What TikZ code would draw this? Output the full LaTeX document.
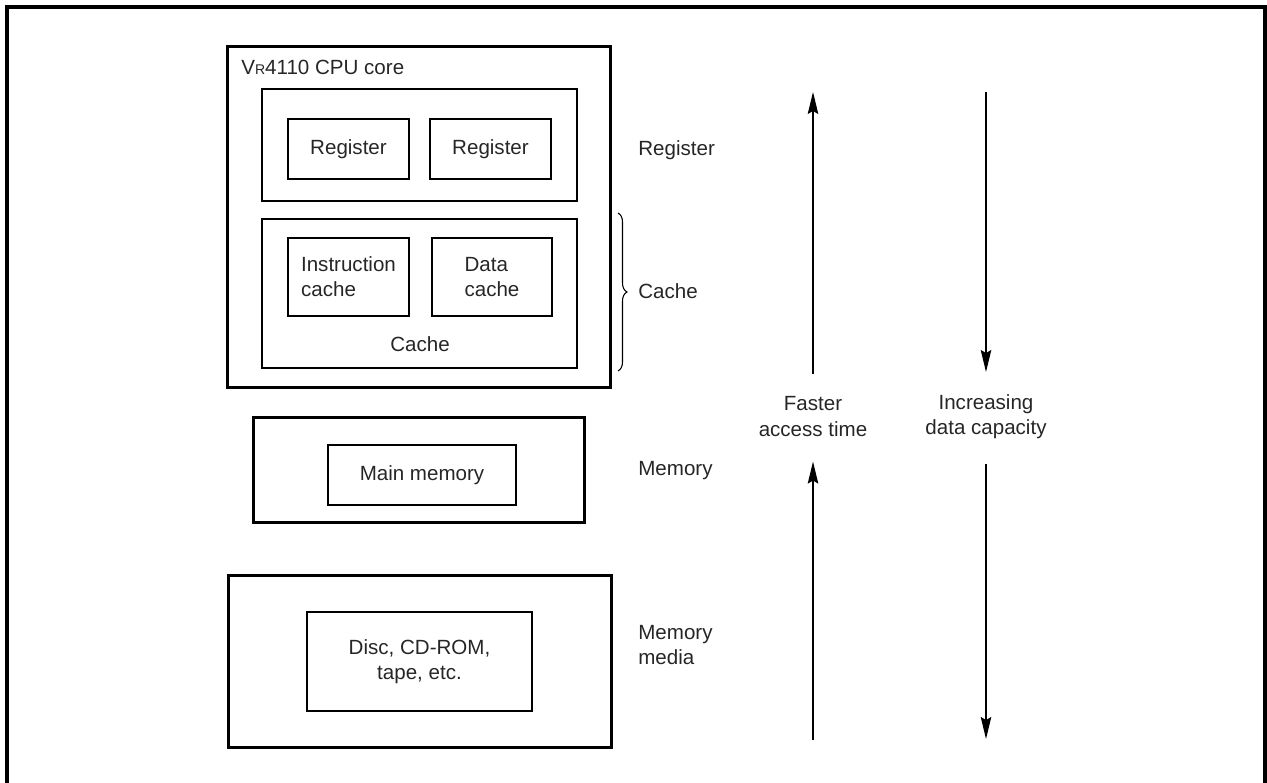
\documentclass[tikz,border=0pt]{standalone}
\usepackage{fontspec}
\setmainfont{Liberation Sans}
\usetikzlibrary{arrows.meta,decorations.pathreplacing}

\begin{document}
\begin{tikzpicture}[
    x=0.02cm, y=-0.02cm,
    font=\fontsize{11.7}{14.3}\selectfont,
    >={Stealth[length=4.4mm,width=2.1mm,inset=0.6mm]},
    shell/.style={draw, line width=1.7pt, inner sep=0pt},
    group/.style={draw, line width=0.7pt, inner sep=0pt},
    unit/.style={draw, line width=0.7pt, inner sep=0pt, text=black!85, align=left},
    level/.style={anchor=west, align=left, inner sep=0pt, text=black!85},
    flow/.style={->, line width=0.8pt},
    flowlabel/.style={align=center, inner sep=0pt, text=black!85}
  ]
  \useasboundingbox (0,0) rectangle (1267,783);
  \draw[line width=2pt] (7,783) -- (7,7) -- (1265,7) -- (1265,783);

  % CPU core with registers and caches
  \node[shell, minimum width=7.68cm, minimum height=6.84cm] (core) at (419,217) {};
  \node[anchor=base west, inner sep=0pt, text=black!85] (corelabel) at (241,75)
    {V{\fontsize{8}{9}\selectfont R}4110 CPU core};
  \node[group, minimum width=6.3cm, minimum height=2.24cm] (reggroup) at (419.5,145) {};
  \node[unit, minimum width=2.42cm, minimum height=1.2cm] (regA) at (348.5,149) {Register};
  \node[unit, minimum width=2.42cm, minimum height=1.2cm] (regB) at (490.5,149) {Register};
  \node[group, minimum width=6.3cm, minimum height=2.98cm] (cachegroup) at (419.5,293.5) {};
  \node[unit, minimum width=2.42cm, minimum height=1.56cm] (icache) at (348.5,277) {Instruction\\cache};
  \node[unit, minimum width=2.4cm, minimum height=1.56cm] (dcache) at (492,277) {Data\\cache};
  \node[flowlabel] (cachelabel) at (420,344) {Cache};

  % main memory and memory media
  \node[shell, minimum width=6.64cm, minimum height=2.12cm] (memory) at (419,470) {};
  \node[unit, minimum width=3.76cm, minimum height=1.2cm] (mainmem) at (422,475) {Main memory};
  \node[shell, minimum width=7.68cm, minimum height=3.46cm] (media) at (420,661.5) {};
  \node[unit, align=center, minimum width=4.5cm, minimum height=1.98cm] (disc) at (419.5,661.5)
    {Disc, CD-ROM,\\tape, etc.};

  % level names
  \node[level] (lvreg) at (638,150) {Register};
  \coordinate (bracetop) at (618,213);
  \coordinate (bracebot) at (618,371);
  \draw[decorate, decoration={brace, amplitude=0.18cm}, line width=0.6pt] (bracetop) -- (bracebot);
  \node[level] (lvcache) at (638,291) {Cache};
  \node[level] (lvmem) at (638,471) {Memory};
  \node[level] (lvmedia) at (638,645) {Memory\\media};

  % access time and capacity
  \node[flowlabel] (fast) at (813,416.5) {Faster\\access time};
  \node[flowlabel] (capacity) at (986,416.5) {Increasing\\data capacity};
  \coordinate (fasttop) at (813,92);
  \coordinate (fastbot) at (813,740);
  \coordinate (captop) at (986,92);
  \coordinate (capbot) at (986,739);
  \draw[flow] ([yshift=0.44cm]fast.north) -- (fasttop);
  \draw[flow] (fastbot) -- ([yshift=-0.5cm]fast.south);
  \draw[flow] (captop) -- ([yshift=0.44cm]capacity.north);
  \draw[flow] ([yshift=-0.5cm]capacity.south) -- (capbot);
\end{tikzpicture}
\end{document}
